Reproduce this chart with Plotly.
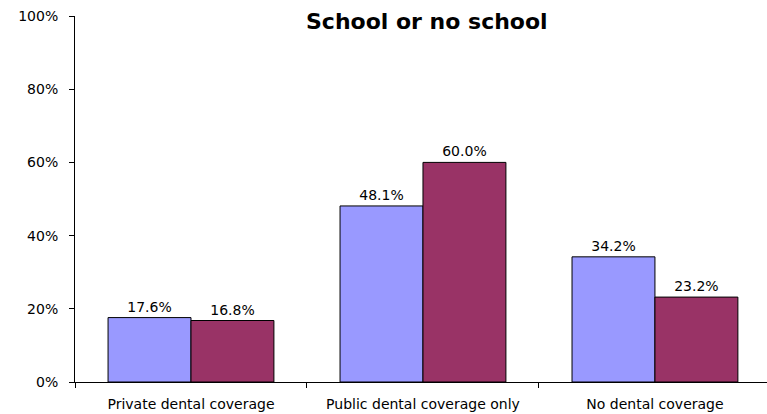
import plotly.graph_objects as go

categories = ["Private dental coverage", "Public dental coverage only", "No dental coverage"]
school = [0.176, 0.481, 0.342]
no_school = [0.168, 0.600, 0.232]
y_ticks = [0, 0.2, 0.4, 0.6, 0.8, 1.0]
title_text = "School or no school"

FONT = "DejaVu Sans"

fig = go.Figure()
for vals, color, name in [(school, "#9999FF", "School"), (no_school, "#993366", "No school")]:
    fig.add_trace(go.Bar(
        x=categories, y=vals, name=name,
        marker=dict(color=color, line=dict(color="#000000", width=1)),
        texttemplate="%{y:.1%}", textposition="outside",
        textfont=dict(family=FONT, size=14, color="#000000"),
        cliponaxis=False,
    ))

fig.add_annotation(
    text="<b>" + title_text + "</b>", xref="paper", yref="paper",
    x=0.509, y=0.984, xanchor="center", yanchor="middle", showarrow=False,
    font=dict(family=FONT, size=22, color="#000000"),
)

fig.update_layout(
    width=767, height=414,
    margin=dict(l=75, r=0, t=16, b=32),
    barmode="group", bargap=0.285, bargroupgap=0,
    showlegend=False,
    plot_bgcolor="white", paper_bgcolor="white",
    font=dict(family=FONT, size=14, color="#000000"),
)
fig.update_xaxes(
    range=[-0.5, 2.483], showline=True, linecolor="#000000", linewidth=1,
    ticks="outside", tickson="boundaries", ticklen=5, tickcolor="#000000",
    showgrid=False, ticklabelstandoff=9,
    tickfont=dict(family=FONT, size=14, color="#000000"),
)
fig.update_yaxes(
    range=[0, 1], tickvals=y_ticks, tickformat=".0%",
    showline=True, linecolor="#000000", linewidth=1,
    ticks="outside", ticklen=5, tickcolor="#000000",
    showgrid=False, zeroline=False, ticklabelstandoff=8,
    tickfont=dict(family=FONT, size=14, color="#000000"),
)

fig.write_html(
    "out.html",
    config={"displayModeBar": False},
    post_script="document.body.style.margin='0';document.body.style.overflow='hidden';",
)
